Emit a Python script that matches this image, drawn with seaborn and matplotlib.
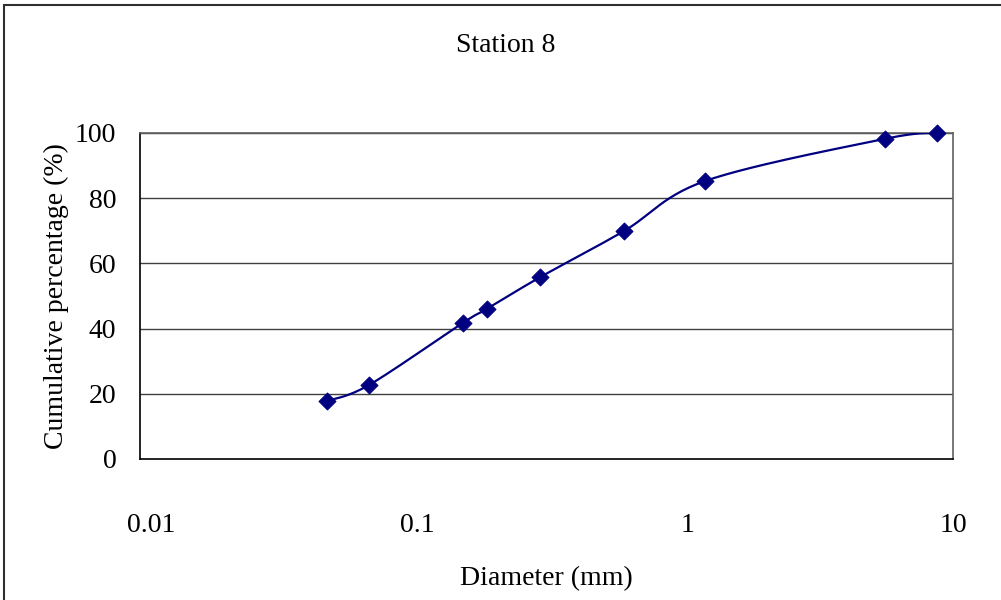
import numpy as np
import matplotlib
matplotlib.use("Agg")
import matplotlib.pyplot as plt
import seaborn as sns
from matplotlib.patches import Rectangle
from matplotlib.transforms import ScaledTranslation

# -------------------------------
# Data
# -------------------------------

diameter = [0.049, 0.07, 0.155, 0.19, 0.30, 0.61, 1.22, 5.6, 8.7]
cumulative = [17.8, 22.7, 41.7, 46.0, 55.8, 69.9, 85.3, 98.2, 100.0]
x_ticks = [0.01, 0.1, 1, 10]
x_labels = ["0.01", "0.1", "1", "10"]
y_ticks = [0, 20, 40, 60, 80, 100]

sns.set_style("white")
plt.rcParams["font.family"] = ["Liberation Serif", "DejaVu Serif"]
plt.rcParams["text.color"] = "black"
plt.rcParams["xtick.color"] = "black"
plt.rcParams["ytick.color"] = "black"
plt.rcParams["axes.labelcolor"] = "black"

# -------------------------------
# Smoothed line (Excel-like Bezier through the points, in log-x space)
# -------------------------------

def smooth(xs, ys, n=30):
    px = np.log10(xs)
    py = np.asarray(ys, dtype=float)
    px = np.concatenate([[px[0]], px, [px[-1]]])
    py = np.concatenate([[py[0]], py, [py[-1]]])
    out_x, out_y = [], []
    t = np.linspace(0, 1, n)
    for i in range(1, len(px) - 2):
        p0, p1, p2, p3 = [np.array([px[j], py[j]]) for j in (i - 1, i, i + 1, i + 2)]
        c1 = p1 + (p2 - p0) / 6
        c2 = p2 - (p3 - p1) / 6
        seg = ((1 - t) ** 3)[:, None] * p1 + (3 * (1 - t) ** 2 * t)[:, None] * c1 \
            + (3 * (1 - t) * t ** 2)[:, None] * c2 + (t ** 3)[:, None] * p2
        out_x.extend(seg[:, 0])
        out_y.extend(seg[:, 1])
    return 10 ** np.array(out_x), np.array(out_y)

sx, sy = smooth(diameter, cumulative)

# -------------------------------
# Plot
# -------------------------------

fig = plt.figure(figsize=(10.01, 6), dpi=100)
ax = fig.add_axes([140 / 1001, 141 / 600, 813 / 1001, 326 / 600])

for yv in y_ticks[1:]:
    ax.axhline(yv, color="#404040", lw=1, zorder=1)

ax.plot(sx, sy, color="#000080", lw=1.6, zorder=3)
sns.scatterplot(x=diameter, y=cumulative, marker="D", s=75, color="#000080",
                edgecolor="#000080", ax=ax, zorder=4, clip_on=False)

ax.set_xscale("log")
ax.set_xlim(0.01, 10)
ax.set_ylim(0, 100)
ax.set_xticks(x_ticks)
ax.set_xticklabels(x_labels)
ax.xaxis.set_minor_locator(matplotlib.ticker.NullLocator())
ax.set_yticks(y_ticks)

ax.tick_params(axis="x", direction="in", length=3.5, width=1, pad=39, labelsize=20)
ax.tick_params(axis="y", direction="in", length=3.5, width=1, pad=17, labelsize=20)

# Excel nudges the x labels slightly to the right
shifts = [11, 6, 6, 0]
for lab, dx in zip(ax.get_xticklabels(), shifts):
    lab.set_transform(lab.get_transform() + ScaledTranslation(dx / 100, 0, fig.dpi_scale_trans))

for side in ["left", "bottom"]:
    ax.spines[side].set_color("black")
    ax.spines[side].set_linewidth(1.2)
for side in ["top", "right"]:
    ax.spines[side].set_color("#606060")
    ax.spines[side].set_linewidth(1.2)

fig.text(506 / 1001, 1 - 46 / 600, "Station 8", fontsize=20, ha="center", va="center")
ax.set_xlabel("Diameter (mm)", fontsize=20, labelpad=20)
ax.set_ylabel("Cumulative percentage (%)", fontsize=20, labelpad=4)

fig.patches.append(Rectangle((4 / 1001, -0.01), 1.0, 1 - 4.5 / 600 + 0.01,
                             transform=fig.transFigure, fill=False,
                             edgecolor="#303030", lw=1.5))

fig.savefig("out.png", dpi=100)
plt.close()
